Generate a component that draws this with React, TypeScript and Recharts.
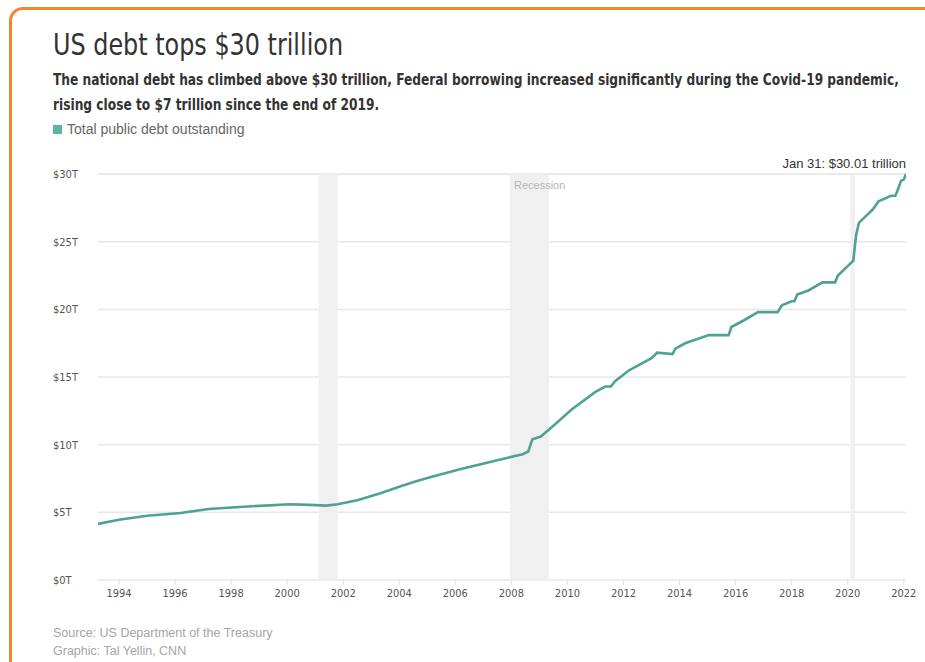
import { LineChart, Line, XAxis, YAxis, CartesianGrid, ReferenceArea } from 'recharts'

// debt readings (fractional year, trillions of dollars)
const years = [
  1993.25, 1994.0, 1995.0, 1996.2, 1997.2, 1998.3, 1999.2, 2000.1, 2000.8, 2001.4,
  2001.8, 2002.5, 2003.3, 2004.0, 2004.6, 2005.1, 2006.2, 2007.2, 2007.8, 2008.4,
  2008.6, 2008.75, 2009.05, 2009.5, 2010.15, 2011.0, 2011.35, 2011.55, 2011.7, 2012.2,
  2013.0, 2013.2, 2013.75, 2013.85, 2014.2, 2015.05, 2015.75, 2015.85, 2016.3, 2016.8,
  2017.5, 2017.65, 2018.0, 2018.1, 2018.2, 2018.6, 2019.1, 2019.55, 2019.65, 2020.0,
  2020.2, 2020.3, 2020.4, 2020.6, 2020.9, 2021.1, 2021.55, 2021.7, 2021.8, 2021.9,
  2022.0, 2022.08,
]
const debt = [
  4.15, 4.45, 4.75, 4.95, 5.25, 5.4, 5.5, 5.6, 5.55, 5.5,
  5.6, 5.9, 6.4, 6.9, 7.3, 7.6, 8.2, 8.7, 9.0, 9.3,
  9.5, 10.4, 10.6, 11.4, 12.6, 13.9, 14.3, 14.3, 14.7, 15.5,
  16.4, 16.8, 16.7, 17.1, 17.5, 18.1, 18.1, 18.7, 19.2, 19.8,
  19.8, 20.3, 20.6, 20.6, 21.1, 21.4, 22.0, 22.0, 22.5, 23.2,
  23.6, 25.5, 26.4, 26.8, 27.4, 28.0, 28.4, 28.4, 28.9, 29.5,
  29.6, 30.01,
]

const xTicks = [1994, 1996, 1998, 2000, 2002, 2004, 2006, 2008, 2010, 2012, 2014, 2016, 2018, 2020, 2022]
const yTicks = [0, 5, 10, 15, 20, 25, 30]

// recession periods [start, end]
const recessions = [
  [2001.13, 2001.81],
  [2007.95, 2009.34],
  [2020.1, 2020.26],
]

const data = years.map((year, i) => ({ year, debt: debt[i] }))

const narrow = '"DejaVu Sans Condensed", "DejaVu Sans", sans-serif'
const sans = '"Liberation Sans", Arial, sans-serif'

const YTick = ({ y, payload }: any) => (
  <text x={53} y={y} dy={4} textAnchor="start" fill="#555" fontSize={11} fontFamily={narrow}>
    {`$${payload.value}T`}
  </text>
)

export default function App() {
  return (
    <div style={{ position: 'fixed', left: 0, top: 0, width: 925, height: 662, overflow: 'hidden', background: '#fff' }}>
      <div
        style={{
          position: 'absolute', left: 9, top: 7, width: 940, height: 700,
          border: '3px solid #f0892a', borderRadius: 14, boxSizing: 'border-box',
        }}
      />
      <div
        style={{
          position: 'absolute', left: 53, top: 27, fontFamily: narrow, fontSize: 30, color: '#333',
          whiteSpace: 'nowrap', transform: 'scaleX(0.885)', transformOrigin: 'left top',
        }}
      >
        US debt tops $30 trillion
      </div>
      <div
        style={{
          position: 'absolute', left: 53, top: 68, fontFamily: narrow, fontWeight: 700, fontSize: 15,
          lineHeight: '25px', color: '#333', whiteSpace: 'nowrap',
          transform: 'scaleX(0.905)', transformOrigin: 'left top',
        }}
      >
        The national debt has climbed above $30 trillion, Federal borrowing increased significantly during the Covid-19 pandemic,
        <br />
        rising close to $7 trillion since the end of 2019.
      </div>
      <div style={{ position: 'absolute', left: 53, top: 121, display: 'flex', alignItems: 'center', gap: 5, fontFamily: sans, fontSize: 14, color: '#666' }}>
        <span style={{ width: 9, height: 9, background: '#5fb3a3', display: 'inline-block' }} />
        Total public debt outstanding
      </div>

      <div style={{ position: 'absolute', left: 0, top: 0 }}>
        <LineChart width={925} height={662} data={data} margin={{ top: 174, right: 19, bottom: 54, left: 53 }}>
          {recessions.map(([a, b]) => (
            <ReferenceArea key={a} x1={a} x2={b} y1={0} y2={30} fill="#f0f0f0" fillOpacity={1} stroke="none" ifOverflow="hidden" />
          ))}
          <CartesianGrid vertical={false} stroke="#e8e8e8" strokeWidth={1.5} />
          <XAxis
            dataKey="year"
            type="number"
            domain={[1993.25, 2022.08]}
            ticks={xTicks}
            allowDataOverflow
            height={28}
            axisLine={false}
            tickSize={5}
            tickMargin={4}
            tickLine={{ stroke: '#e0e0e0' }}
            tick={{ fill: '#555', fontSize: 11, fontFamily: narrow }}
            interval={0}
          />
          <YAxis
            type="number"
            domain={[0, 30]}
            ticks={yTicks}
            width={45}
            axisLine={false}
            tickLine={false}
            tick={<YTick />}
          />
          <Line type="linear" dataKey="debt" stroke="#4fa293" strokeWidth={2.6} dot={false} isAnimationActive={false} />
        </LineChart>
      </div>

      <div style={{ position: 'absolute', left: 514, top: 179, fontFamily: sans, fontSize: 11, color: '#b5b5b5' }}>Recession</div>
      <div style={{ position: 'absolute', right: 19, top: 156, fontFamily: sans, fontSize: 13, color: '#333', whiteSpace: 'nowrap' }}>
        Jan 31: $30.01 trillion
      </div>
      <div style={{ position: 'absolute', left: 53, top: 624, fontFamily: sans, fontSize: 12.5, lineHeight: '18px', color: '#a5a5a5' }}>
        Source: US Department of the Treasury
        <br />
        Graphic: Tal Yellin, CNN
      </div>
    </div>
  )
}
